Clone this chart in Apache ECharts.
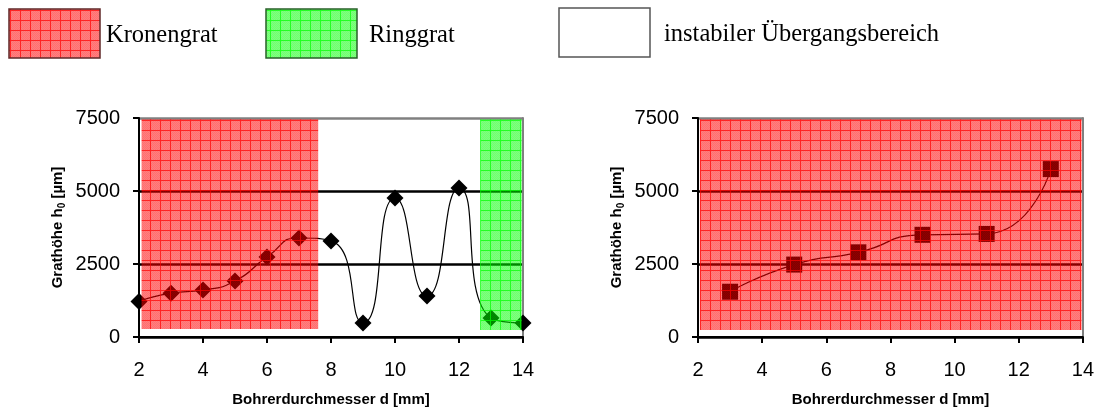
<!DOCTYPE html>
<html>
<head>
<meta charset="utf-8">
<script src="https://cdn.jsdelivr.net/npm/echarts@6/dist/echarts.min.js"></script>
<style>
  html, body { margin: 0; padding: 0; background: #fff; }
  #chart { width: 1097px; height: 413px; }
</style>
</head>
<body>
<div id="chart"></div>
<script>
// legend entries
const legendNames = ["Kronengrat", "Ringgrat", "instabiler Übergangsbereich"];

// left chart: all bores 2..14 mm
const leftD = [2, 3, 4, 5, 6, 7, 8, 9, 10, 11, 12, 13, 14];
const leftH = [1220, 1500, 1610, 1920, 2740, 3390, 3290, 480, 4760, 1400, 5100, 650, 480];

// right chart: odd bores
const rightD = [3, 5, 7, 9, 11, 13];
const rightH = [1550, 2480, 2900, 3500, 3530, 5750];

// shaded regions [xFrom, xTo, yFrom, yTo]
const leftKronen = [2.08, 7.6, 270, 7460];
const leftRing = [12.66, 13.96, 240, 7460];
const rightKronen = [2.06, 13.96, 240, 7460];

const yTicks = [0, 2500, 5000, 7500];
const xTicks = [2, 4, 6, 8, 10, 12, 14];

function makePattern(rgb) {
  const c = document.createElement("canvas");
  c.width = 10;
  c.height = 10;
  const g = c.getContext("2d");
  g.fillStyle = "rgba(" + rgb + ",0.5)";
  g.fillRect(0, 0, 10, 10);
  g.fillStyle = "rgba(" + rgb + ",0.12)";
  for (let i = 0; i < 10; i++) {
    for (let j = 0; j < 10; j++) {
      if ((i + j) % 2 === 0) g.fillRect(i, j, 1, 1);
    }
  }
  g.fillStyle = "rgba(" + rgb + ",0.7)";
  g.fillRect(0, 0, 10, 1);
  g.fillRect(0, 1, 1, 9);
  return c;
}

const redFill = { image: makePattern("255,0,0"), repeat: "repeat" };
const greenFill = { image: makePattern("0,255,0"), repeat: "repeat" };

const tickFont = { fontFamily: "Liberation Sans", fontSize: 20, color: "#000" };
const nameFont = { fontFamily: "Liberation Sans", fontWeight: "bold", fontSize: 15, color: "#000" };

function area(r, fill) {
  return [{ xAxis: r[0], yAxis: r[2], itemStyle: { color: fill } }, { xAxis: r[1], yAxis: r[3] }];
}

function xAxisFor(gridIndex) {
  return {
    type: "value",
    gridIndex,
    min: xTicks[0],
    max: xTicks[xTicks.length - 1],
    interval: 2,
    name: "Bohrerdurchmesser d [mm]",
    nameLocation: "middle",
    nameGap: 55,
    nameTextStyle: nameFont,
    axisLine: { show: true, lineStyle: { color: "#000", width: 2 } },
    axisTick: { show: true, length: 6, lineStyle: { color: "#000", width: 2 } },
    axisLabel: Object.assign({ margin: 23 }, tickFont),
    splitLine: { show: false },
  };
}

function yAxesFor(gridIndex) {
  return [
    {
      type: "value",
      gridIndex,
      min: yTicks[0],
      max: yTicks[yTicks.length - 1],
      interval: 2500,
      name: "{a|Grathöhe h}{s|0}{a| [µm]}",
      nameLocation: "middle",
      nameGap: 72,
      nameRotate: 90,
      nameTextStyle: {
        rich: {
          a: Object.assign({ lineHeight: 18 }, nameFont),
          s: Object.assign({}, nameFont, { fontSize: 10, lineHeight: 18, verticalAlign: "bottom", padding: [6, 0, 0, 0] }),
        },
      },
      axisLine: { show: true, lineStyle: { color: "#000", width: 2 } },
      axisTick: { show: true, length: 6, lineStyle: { color: "#000", width: 2 } },
      axisLabel: Object.assign({ margin: 19, formatter: (v) => String(v) }, tickFont),
      splitLine: { show: true, lineStyle: { color: ["#000", "#000", "#000", "#808080"], width: 2.5 } },
    },
    {
      type: "value",
      gridIndex,
      position: "right",
      min: yTicks[0],
      max: yTicks[yTicks.length - 1],
      interval: 2500,
      axisLine: { show: true, lineStyle: { color: "#808080", width: 2 } },
      axisTick: { show: false },
      axisLabel: { show: false },
      splitLine: { show: false },
    },
  ];
}

const chart = echarts.init(document.getElementById("chart"), null, { renderer: "canvas" });

// legend drawn as graphics
const legendBoxes = [
  { x: 9, y: 9, fill: redFill, stroke: "#602828", tx: 106 },
  { x: 266, y: 9, fill: greenFill, stroke: "#286028", tx: 369 },
  { x: 559, y: 8, fill: "#fff", stroke: "#555", tx: 664 },
];
const graphics = [];
legendNames.forEach((name, i) => {
  const b = legendBoxes[i];
  graphics.push({
    type: "rect",
    shape: { x: b.x, y: b.y, width: 91, height: 49 },
    style: { fill: b.fill, stroke: b.stroke, lineWidth: 1.5 },
  });
  graphics.push({
    type: "text",
    x: b.tx,
    y: b.y + 27,
    style: {
      text: name,
      fill: "#000",
      font: "24.5px 'Liberation Serif'",
      verticalAlign: "middle",
    },
  });
});

const option = {
  animation: false,
  backgroundColor: "#fff",
  graphic: graphics,
  grid: [
    { left: 139, right: 574, top: 118, bottom: 76 },
    { left: 698, right: 14, top: 118, bottom: 76 },
  ],
  xAxis: [xAxisFor(0), xAxisFor(1)],
  yAxis: yAxesFor(0).concat(yAxesFor(1)),
  series: [
    {
      type: "line",
      xAxisIndex: 0,
      yAxisIndex: 0,
      data: leftD.map((d, i) => [d, leftH[i]]),
      smooth: 0.6,
      symbol: "diamond",
      symbolSize: [17, 17],
      showAllSymbol: true,
      clip: false,
      lineStyle: { color: "#000", width: 1.2 },
      itemStyle: { color: "#000" },
      markArea: {
        silent: true,
        z: 10,
        data: [area(leftKronen, redFill), area(leftRing, greenFill)],
      },
    },
    {
      type: "line",
      xAxisIndex: 1,
      yAxisIndex: 2,
      data: rightD.map((d, i) => [d, rightH[i]]),
      smooth: 0.6,
      symbol: "rect",
      symbolSize: 16,
      clip: false,
      lineStyle: { color: "#000", width: 1.2 },
      itemStyle: { color: "#000" },
      markArea: {
        silent: true,
        z: 10,
        data: [area(rightKronen, redFill)],
      },
    },
  ],
};

chart.setOption(option);
</script>
</body>
</html>
